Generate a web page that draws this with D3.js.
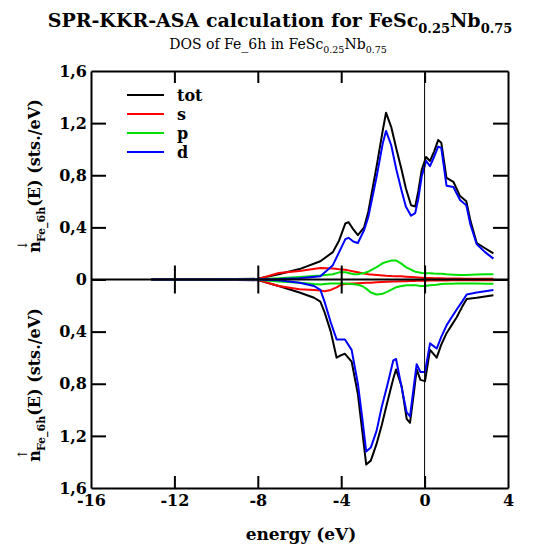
<!DOCTYPE html>
<html>
<head>
<meta charset="utf-8">
<script src="https://cdn.jsdelivr.net/npm/d3@7"></script>
<style>
  body { margin: 0; background: #fff; }
  svg { display: block; font-family: "DejaVu Serif", serif; }
  .axis path, .axis line { stroke: #000; stroke-width: 2; }
  .axis text { font-size: 16px; font-weight: bold; fill: #000; font-family: "DejaVu Serif", serif; }
  .line { fill: none; stroke-width: 2; stroke-linejoin: round; }
</style>
</head>
<body>
<script>
/********************************************************/
// data (energy in eV, DOS in sts./eV)

const energyUp = [-13.1, -10, -8, -7, -6, -5, -4.4, -4.1, -3.8, -3.65, -3.4, -3.2, -2.9, -2.7, -2.3, -2.0, -1.85, -1.6, -1.35, -1.1, -0.9, -0.65, -0.45, -0.3, -0.14, 0.07, 0.26, 0.45, 0.65, 0.8, 1.05, 1.38, 1.7, 2.0, 2.2, 2.5, 2.9, 3.3];
const totUp = [0, 0.002, 0.005, 0.04, 0.08, 0.14, 0.21, 0.30, 0.43, 0.44, 0.38, 0.34, 0.40, 0.52, 0.87, 1.15, 1.28, 1.17, 1.00, 0.84, 0.70, 0.57, 0.56, 0.68, 0.84, 0.94, 0.91, 0.98, 1.07, 1.05, 0.78, 0.75, 0.64, 0.60, 0.45, 0.28, 0.24, 0.20];
const sUp = [0, 0.001, 0.003, 0.05, 0.065, 0.088, 0.085, 0.078, 0.075, 0.07, 0.062, 0.055, 0.045, 0.04, 0.035, 0.03, 0.028, 0.026, 0.025, 0.024, 0.022, 0.02, 0.018, 0.016, 0.014, 0.012, 0.011, 0.01, 0.01, 0.009, 0.008, 0.007, 0.007, 0.006, 0.006, 0.005, 0.005, 0.005];
const pUp = [0, 0, 0.001, 0.01, 0.02, 0.03, 0.04, 0.055, 0.055, 0.05, 0.04, 0.04, 0.05, 0.06, 0.095, 0.125, 0.135, 0.145, 0.145, 0.12, 0.095, 0.075, 0.06, 0.055, 0.05, 0.048, 0.048, 0.046, 0.045, 0.044, 0.04, 0.037, 0.035, 0.035, 0.036, 0.038, 0.04, 0.04];
const dUp = [0, 0, 0, 0.003, 0.01, 0.025, 0.11, 0.21, 0.31, 0.32, 0.29, 0.28, 0.38, 0.48, 0.79, 1.05, 1.14, 1.03, 0.84, 0.68, 0.56, 0.49, 0.51, 0.62, 0.79, 0.91, 0.87, 0.94, 1.02, 1.01, 0.72, 0.71, 0.61, 0.57, 0.42, 0.27, 0.21, 0.16];

const energyDn = [-13.1, -10, -8, -7, -6, -5.3, -5, -4.8, -4.5, -4.22, -4.0, -3.82, -3.5, -3.2, -3.0, -2.8, -2.58, -2.3, -2.06, -1.8, -1.5, -1.37, -1.1, -0.86, -0.7, -0.5, -0.38, -0.2, 0.02, 0.26, 0.58, 0.8, 1.06, 1.3, 1.54, 1.8, 2.02, 2.5, 2.9, 3.3];
const totDn = [0, 0.002, 0.005, 0.05, 0.10, 0.14, 0.17, 0.25, 0.40, 0.60, 0.58, 0.57, 0.63, 0.88, 1.15, 1.42, 1.39, 1.26, 1.12, 0.95, 0.76, 0.69, 0.82, 1.07, 1.10, 0.85, 0.69, 0.77, 0.78, 0.54, 0.60, 0.50, 0.41, 0.35, 0.29, 0.21, 0.15, 0.14, 0.13, 0.12];
const sDn = [0, 0.001, 0.003, 0.05, 0.075, 0.08, 0.085, 0.09, 0.08, 0.06, 0.04, 0.035, 0.03, 0.028, 0.026, 0.025, 0.024, 0.022, 0.02, 0.018, 0.016, 0.015, 0.014, 0.013, 0.012, 0.011, 0.01, 0.01, 0.009, 0.008, 0.008, 0.007, 0.007, 0.006, 0.006, 0.006, 0.005, 0.005, 0.005, 0.005];
const pDn = [0, 0, 0.001, 0.015, 0.025, 0.035, 0.038, 0.035, 0.03, 0.03, 0.03, 0.03, 0.035, 0.04, 0.05, 0.07, 0.10, 0.115, 0.112, 0.095, 0.07, 0.06, 0.05, 0.045, 0.045, 0.045, 0.045, 0.05, 0.05, 0.045, 0.04, 0.035, 0.033, 0.032, 0.03, 0.03, 0.03, 0.03, 0.032, 0.033];
const dDn = [0, 0, 0, 0.005, 0.025, 0.05, 0.08, 0.17, 0.33, 0.46, 0.46, 0.46, 0.54, 0.80, 1.05, 1.32, 1.29, 1.16, 0.98, 0.82, 0.62, 0.61, 0.83, 1.02, 1.05, 0.80, 0.65, 0.71, 0.71, 0.49, 0.53, 0.44, 0.35, 0.29, 0.23, 0.17, 0.115, 0.10, 0.09, 0.08];

const seriesNames = ["tot", "s", "p", "d"];
const seriesColors = ["#000000", "#ff0000", "#00e000", "#0000ff"];
const xTicks = [-16, -12, -8, -4, 0, 4];
const yTicks = [-1.6, -1.2, -0.8, -0.4, 0, 0.4, 0.8, 1.2, 1.6];

/********************************************************/
const svgWidth = 560;
const svgHeight = 551;
const plot = { left: 91, right: 508, top: 71, bottom: 488 };

const svg = d3.select("body").append("svg")
  .attr("width", svgWidth)
  .attr("height", svgHeight);

const xScale = d3.scaleLinear().domain([-16, 4]).range([plot.left, plot.right]);
const yScale = d3.scaleLinear().domain([-1.6, 1.6]).range([plot.bottom, plot.top]);

const fmtY = (d) => d === 0 ? "0" : Math.abs(d).toFixed(1).replace(".", ",");
const fmtX = (d) => String(d); // plain hyphen, like the original

/************** titles ************/
const title = svg.append("text")
  .attr("x", 280).attr("y", 27)
  .attr("text-anchor", "middle")
  .attr("font-size", "19px").attr("font-weight", "bold");
title.append("tspan").text("SPR-KKR-ASA calculation for FeSc");
title.append("tspan").text("0.25").attr("font-size", "13px").attr("dy", 6);
title.append("tspan").text("Nb").attr("dy", -6);
title.append("tspan").text("0.75").attr("font-size", "13px").attr("dy", 6);

const sub = svg.append("text")
  .attr("x", 278).attr("y", 49)
  .attr("text-anchor", "middle")
  .attr("font-size", "14px");
sub.append("tspan").text("DOS of Fe_6h in FeSc");
sub.append("tspan").text("0.25").attr("font-size", "9.5px").attr("dy", 4);
sub.append("tspan").text("Nb").attr("dy", -4);
sub.append("tspan").text("0.75").attr("font-size", "9.5px").attr("dy", 4);

/************** curves ************/
const lineUp = (vals) => d3.line()
  .x((d, i) => xScale(energyUp[i]))
  .y((d) => yScale(d))(vals);
const lineDn = (vals) => d3.line()
  .x((d, i) => xScale(energyDn[i]))
  .y((d) => yScale(-d))(vals);

[totUp, sUp, pUp, dUp].forEach((vals, i) => {
  svg.append("path").classed("line", true)
    .attr("stroke", seriesColors[i])
    .attr("d", lineUp(vals));
});
[totDn, sDn, pDn, dDn].forEach((vals, i) => {
  svg.append("path").classed("line", true)
    .attr("stroke", seriesColors[i])
    .attr("d", lineDn(vals));
});

/************** zero line and Fermi level ************/
svg.append("line")
  .attr("x1", plot.left).attr("x2", plot.right)
  .attr("y1", yScale(0)).attr("y2", yScale(0))
  .attr("stroke", "#000").attr("stroke-width", 2);
svg.append("line")
  .attr("x1", xScale(0)).attr("x2", xScale(0))
  .attr("y1", plot.top).attr("y2", plot.bottom)
  .attr("stroke", "#000").attr("stroke-width", 1);

// ticks crossing the zero line
[d3.axisTop(xScale), d3.axisBottom(xScale)].forEach((ax) => {
  svg.append("g").classed("axis", true)
    .attr("transform", `translate(0,${yScale(0)})`)
    .call(ax.tickValues(xTicks.slice(1, -1)).tickSize(14).tickFormat(""))
    .call((g) => g.select(".domain").remove());
});

/************** axes ************/
svg.append("g").classed("axis", true)
  .attr("transform", `translate(0,${plot.bottom})`)
  .call(d3.axisBottom(xScale).tickValues(xTicks).tickSize(-12).tickSizeOuter(0).tickFormat(fmtX))
  .call((g) => g.selectAll(".tick text").attr("y", 7));

svg.append("g").classed("axis", true)
  .attr("transform", `translate(0,${plot.top})`)
  .call(d3.axisTop(xScale).tickValues(xTicks).tickSize(-12).tickSizeOuter(0).tickFormat(""));

svg.append("g").classed("axis", true)
  .attr("transform", `translate(${plot.left},0)`)
  .call(d3.axisLeft(yScale).tickValues(yTicks).tickSize(-15).tickSizeOuter(0).tickFormat(fmtY))
  .call((g) => g.selectAll(".tick text").attr("x", -4));

svg.append("g").classed("axis", true)
  .attr("transform", `translate(${plot.right},0)`)
  .call(d3.axisRight(yScale).tickValues(yTicks).tickSize(-15).tickSizeOuter(0).tickFormat(""));

// remove tick marks that sit on the frame corners
svg.selectAll(".axis .tick").filter((d) => d === -16 || d === 4 || d === 1.6 || d === -1.6)
  .select("line").remove();

/************** axis titles ************/
svg.append("text")
  .attr("x", 301).attr("y", 540)
  .attr("text-anchor", "middle")
  .attr("font-size", "17px").attr("font-weight", "bold")
  .text("energy (eV)");

function yTitle(cy, arrow) {
  const t = svg.append("text")
    .attr("transform", `translate(40,${cy}) rotate(-90)`)
    .attr("text-anchor", "middle")
    .attr("font-size", "16px").attr("font-weight", "bold");
  t.append("tspan").text("n");
  t.append("tspan").text(arrow).attr("font-size", "13px").attr("font-weight", "normal")
    .attr("dx", "-0.75em").attr("dy", -13);
  t.append("tspan").text("Fe_6h").attr("font-size", "11px").attr("dx", "-0.2em").attr("dy", 18);
  t.append("tspan").text("(E) (sts./eV)").attr("dy", -5);
}
yTitle(176, "\u2193");
yTitle(385, "\u2191");

/************** legend ************/
const legend = svg.append("g");
seriesNames.forEach((name, i) => {
  const ly = 95 + i * 19;
  legend.append("line")
    .attr("x1", 127).attr("x2", 164)
    .attr("y1", ly).attr("y2", ly)
    .attr("stroke", seriesColors[i]).attr("stroke-width", 2);
  legend.append("text")
    .attr("x", 177).attr("y", ly + 6)
    .attr("font-size", "16px").attr("font-weight", "bold")
    .text(name);
});
</script>
</body>
</html>
